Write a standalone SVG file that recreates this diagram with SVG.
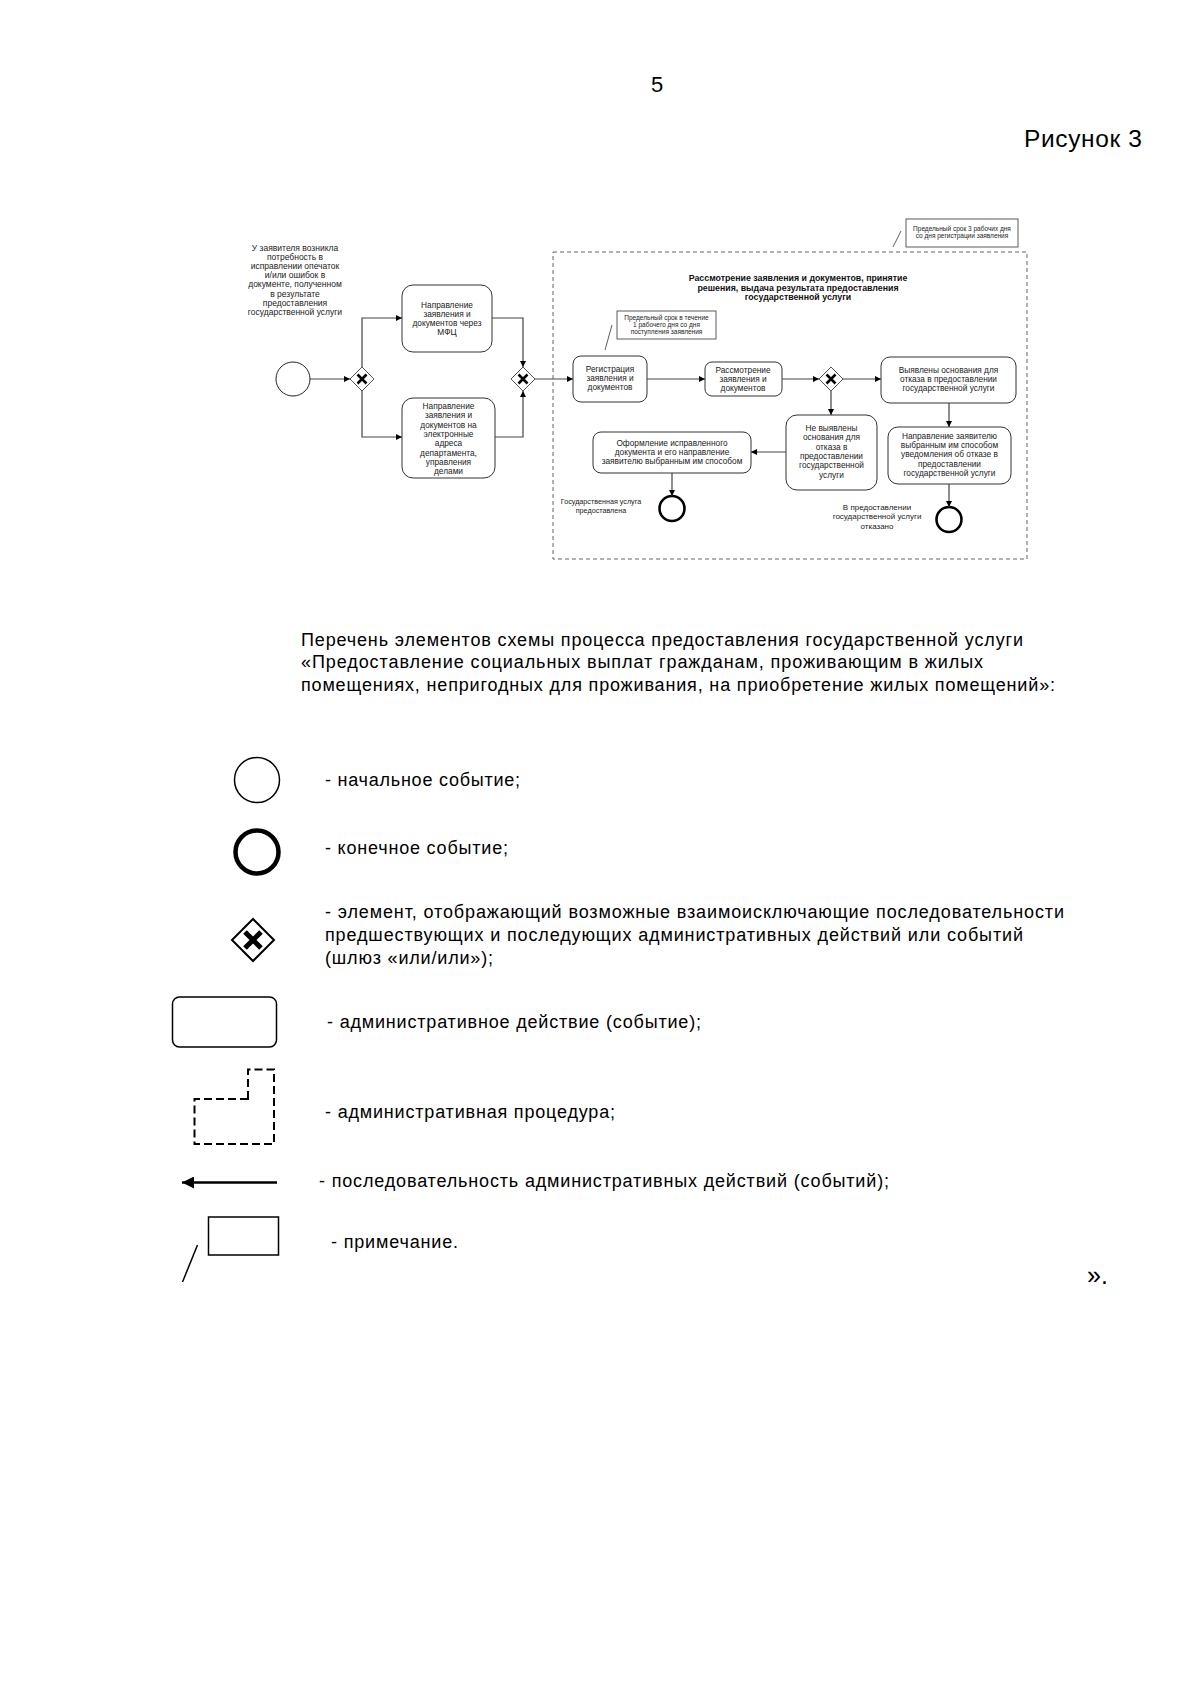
<svg xmlns="http://www.w3.org/2000/svg" width="1200" height="1697" viewBox="0 0 1200 1697">
<style>
.bg{fill:#fff}
.t{font-family:"Liberation Sans",Arial,sans-serif;fill:#000}
.big{font-size:18px}
.s{font-family:"Liberation Sans",Arial,sans-serif;font-size:8.3px;fill:#222;text-anchor:middle}
.sb{font-family:"Liberation Sans",Arial,sans-serif;font-size:8.8px;font-weight:bold;fill:#111;text-anchor:middle}
.n{font-family:"Liberation Sans",Arial,sans-serif;font-size:6.5px;fill:#222;text-anchor:middle}
.task{fill:#fff;stroke:#333;stroke-width:1}
.gw{fill:#fff;stroke:#555;stroke-width:1}
.x{stroke:#000;stroke-width:2.6;stroke-linecap:butt}
.ev{fill:#fff;stroke:#222;stroke-width:1}
.end{fill:#fff;stroke:#000;stroke-width:2.6}
.c{fill:none;stroke:#444;stroke-width:1.2}
.note{fill:#fff;stroke:#333;stroke-width:0.8}
.nl{stroke:#333;stroke-width:0.8}
.cont{fill:none;stroke:#666;stroke-width:1;stroke-dasharray:4 3}
</style>
<defs>
<marker id="a" viewBox="0 0 10 10" refX="10" refY="5" markerUnits="userSpaceOnUse" markerWidth="7" markerHeight="6" orient="auto">
<path d="M0,0 L10,5 L0,10 z" fill="#000"/>
</marker>
<marker id="ab" viewBox="0 0 10 10" refX="10" refY="5" markerUnits="userSpaceOnUse" markerWidth="14" markerHeight="12" orient="auto">
<path d="M0,0 L10,5 L0,10 z" fill="#000"/>
</marker>
</defs>
<rect class="bg" x="0" y="0" width="1200" height="1697"/>

<text class="t" x="657" y="92" font-size="22" text-anchor="middle">5</text>
<text class="t" x="1024" y="147" font-size="24.5" textLength="118">Рисунок 3</text>

<!-- Diagram -->
<g id="container">
<rect class="cont" x="553" y="252" width="474" height="307"/>
<text class="sb" x="798" y="281"><tspan x="798">Рассмотрение заявления и документов, принятие</tspan><tspan x="798" dy="9.7">решения, выдача результата предоставления</tspan><tspan x="798" dy="9.7">государственной услуги</tspan></text>
</g>

<g id="note-top">
<rect class="note" x="906" y="219" width="112" height="28"/>
<line class="nl" x1="893" y1="247" x2="901" y2="231"/>
<text class="n" x="962" y="230.5"><tspan x="962">Предельный срок 3 рабочих дня</tspan><tspan x="962" dy="7.5">со дня регистрации заявления</tspan></text>
</g>

<g id="note-reg">
<rect class="note" x="617" y="311" width="99" height="28"/>
<line class="nl" x1="605" y1="350" x2="612" y2="325"/>
<text class="n" x="666.5" y="319.5"><tspan x="666.5">Предельный срок в течение</tspan><tspan x="666.5" dy="7.4">1 рабочего дня со дня</tspan><tspan x="666.5" dy="7.4">поступления заявления</tspan></text>
</g>

<g id="start-text">
<text class="s" x="295" y="251" style="font-size:8.5px"><tspan x="295">У заявителя возникла</tspan><tspan x="295" dy="9.1">потребность в</tspan><tspan x="295" dy="9.1">исправлении опечаток</tspan><tspan x="295" dy="9.1">и/или ошибок в</tspan><tspan x="295" dy="9.1">документе, полученном</tspan><tspan x="295" dy="9.1">в результате</tspan><tspan x="295" dy="9.1">предоставления</tspan><tspan x="295" dy="9.1">государственной услуги</tspan></text>
</g>

<g id="start"><circle class="ev" cx="293" cy="379" r="17"/></g>

<g id="gw1">
<path class="gw" d="M362,367 L374,379 L362,391 L350,379 z"/>
<path class="x" d="M357.5,374.5 L366.5,383.5 M366.5,374.5 L357.5,383.5"/>
</g>

<g id="task-mfc">
<rect class="task" x="402" y="285" width="90" height="67" rx="11"/>
<text class="s" x="447" y="308"><tspan x="447">Направление</tspan><tspan x="447" dy="9">заявления и</tspan><tspan x="447" dy="9">документов через</tspan><tspan x="447" dy="9">МФЦ</tspan></text>
</g>

<g id="task-email">
<rect class="task" x="402" y="398" width="93" height="80" rx="11"/>
<text class="s" x="448.5" y="409"><tspan x="448.5">Направление</tspan><tspan x="448.5" dy="9.3">заявления и</tspan><tspan x="448.5" dy="9.3">документов на</tspan><tspan x="448.5" dy="9.3">электронные</tspan><tspan x="448.5" dy="9.3">адреса</tspan><tspan x="448.5" dy="9.3">департамента,</tspan><tspan x="448.5" dy="9.3">управления</tspan><tspan x="448.5" dy="9.3">делами</tspan></text>
</g>

<g id="gw2">
<path class="gw" d="M523,367 L535,379 L523,391 L511,379 z"/>
<path class="x" d="M518.5,374.5 L527.5,383.5 M527.5,374.5 L518.5,383.5"/>
</g>

<g id="task-reg">
<rect class="task" x="573" y="356" width="74" height="46" rx="8"/>
<text class="s" x="610" y="371.5"><tspan x="610">Регистрация</tspan><tspan x="610" dy="9.3">заявления и</tspan><tspan x="610" dy="9.3">документов</tspan></text>
</g>

<g id="task-review">
<rect class="task" x="705" y="362" width="77" height="34" rx="7"/>
<text class="s" x="743" y="373"><tspan x="743">Рассмотрение</tspan><tspan x="743" dy="9">заявления и</tspan><tspan x="743" dy="9">документов</tspan></text>
</g>

<g id="gw3">
<path class="gw" d="M831,367 L843,379 L831,391 L819,379 z"/>
<path class="x" d="M826.5,374.5 L835.5,383.5 M835.5,374.5 L826.5,383.5"/>
</g>

<g id="task-found">
<rect class="task" x="881" y="357" width="135" height="46" rx="9"/>
<text class="s" x="948.5" y="372.5"><tspan x="948.5">Выявлены основания для</tspan><tspan x="948.5" dy="9.2">отказа в предоставлении</tspan><tspan x="948.5" dy="9.2">государственной услуги</tspan></text>
</g>

<g id="task-notfound">
<rect class="task" x="786" y="415" width="91" height="75" rx="11"/>
<text class="s" x="831.5" y="431"><tspan x="831.5">Не выявлены</tspan><tspan x="831.5" dy="9.3">основания для</tspan><tspan x="831.5" dy="9.3">отказа в</tspan><tspan x="831.5" dy="9.3">предоставлении</tspan><tspan x="831.5" dy="9.3">государственной</tspan><tspan x="831.5" dy="9.3">услуги</tspan></text>
</g>

<g id="task-issue">
<rect class="task" x="593" y="432" width="158" height="41" rx="8"/>
<text class="s" x="672" y="446"><tspan x="672">Оформление исправленного</tspan><tspan x="672" dy="9.2">документа и его направление</tspan><tspan x="672" dy="9.2">заявителю выбранным им способом</tspan></text>
</g>

<g id="task-refuse">
<rect class="task" x="888" y="427" width="123" height="57" rx="10"/>
<text class="s" x="949.5" y="439"><tspan x="949.5">Направление заявителю</tspan><tspan x="949.5" dy="9.2">выбранным им способом</tspan><tspan x="949.5" dy="9.2">уведомления об отказе в</tspan><tspan x="949.5" dy="9.2">предоставлении</tspan><tspan x="949.5" dy="9.2">государственной услуги</tspan></text>
</g>

<g id="end1">
<circle class="end" cx="672" cy="508.5" r="12.5"/>
<text class="s" x="601" y="504" style="font-size:7.2px"><tspan x="601">Государственная услуга</tspan><tspan x="601" dy="8.5">предоставлена</tspan></text>
</g>

<g id="end2">
<circle class="end" cx="949" cy="519.5" r="12.5"/>
<text class="s" x="877" y="510" style="font-size:8px"><tspan x="877">В предоставлении</tspan><tspan x="877" dy="9.3">государственной услуги</tspan><tspan x="877" dy="9.3">отказано</tspan></text>
</g>

<g id="connectors">
<path class="c" d="M310,379 L350,379" marker-end="url(#a)"/>
<path class="c" d="M362,367 L362,318 L402,318" marker-end="url(#a)"/>
<path class="c" d="M362,391 L362,437 L402,437" marker-end="url(#a)"/>
<path class="c" d="M492,318 L523,318 L523,367" marker-end="url(#a)"/>
<path class="c" d="M495,437 L523,437 L523,391" marker-end="url(#a)"/>
<path class="c" d="M535,379 L573,379" marker-end="url(#a)"/>
<path class="c" d="M647,379 L705,379" marker-end="url(#a)"/>
<path class="c" d="M782,379 L819,379" marker-end="url(#a)"/>
<path class="c" d="M843,379 L881,379" marker-end="url(#a)"/>
<path class="c" d="M831,391 L831,415" marker-end="url(#a)"/>
<path class="c" d="M786,452 L751,452" marker-end="url(#a)"/>
<path class="c" d="M672,473 L672,496" marker-end="url(#a)"/>
<path class="c" d="M949,403 L949,427" marker-end="url(#a)"/>
<path class="c" d="M949,484 L949,507" marker-end="url(#a)"/>
</g>

<!-- Paragraph -->
<g id="heading">
<text class="t big" x="301" y="645.5" textLength="722">Перечень элементов схемы процесса предоставления государственной услуги</text>
<text class="t big" x="301" y="668" textLength="682">«Предоставление социальных выплат гражданам, проживающим в жилых</text>
<text class="t big" x="301" y="690.5" textLength="754">помещениях, непригодных для проживания, на приобретение жилых помещений»:</text>
</g>

<!-- Legend -->
<g id="legend-start">
<circle cx="257" cy="780" r="22.5" fill="#fff" stroke="#000" stroke-width="1.5"/>
<text class="t big" x="325" y="786" textLength="195">- начальное событие;</text>
</g>
<g id="legend-end">
<circle cx="257" cy="852" r="21.5" fill="#fff" stroke="#000" stroke-width="4.5"/>
<text class="t big" x="325" y="854" textLength="183">- конечное событие;</text>
</g>
<g id="legend-gateway">
<path d="M253,919 L274,940 L253,961 L232,940 z" fill="#fff" stroke="#000" stroke-width="2"/>
<path d="M245,932 L261,948 M261,932 L245,948" stroke="#000" stroke-width="5"/>
<text class="t big" x="325" y="918" textLength="739">- элемент, отображающий возможные взаимоисключающие последовательности</text>
<text class="t big" x="325" y="941" textLength="698">предшествующих и последующих административных действий или событий</text>
<text class="t big" x="325" y="964" textLength="168">(шлюз «или/или»);</text>
</g>
<g id="legend-task">
<rect x="172.5" y="997" width="104" height="50" rx="7" fill="#fff" stroke="#000" stroke-width="1.5"/>
<text class="t big" x="327" y="1028" textLength="374">- административное действие (событие);</text>
</g>
<g id="legend-procedure">
<path d="M248,1099 L248,1069.5 L274,1069.5 L274,1144 L194.5,1144 L194.5,1099 z" fill="none" stroke="#000" stroke-width="2" stroke-dasharray="8 4"/>
<text class="t big" x="325" y="1118" textLength="290">- административная процедура;</text>
</g>
<g id="legend-flow">
<line x1="277" y1="1182.5" x2="182" y2="1182.5" stroke="#000" stroke-width="2.5" marker-end="url(#ab)"/>
<text class="t big" x="319" y="1187" textLength="570">- последовательность административных действий (событий);</text>
</g>
<g id="legend-note">
<rect x="208.5" y="1217" width="70" height="38" fill="#fff" stroke="#000" stroke-width="1.5"/>
<line x1="197.5" y1="1245" x2="182.5" y2="1282" stroke="#000" stroke-width="1.5"/>
<text class="t big" x="331" y="1248" textLength="127">- примечание.</text>
</g>
<text class="t" x="1087" y="1284" font-size="25">».</text>
</svg>
